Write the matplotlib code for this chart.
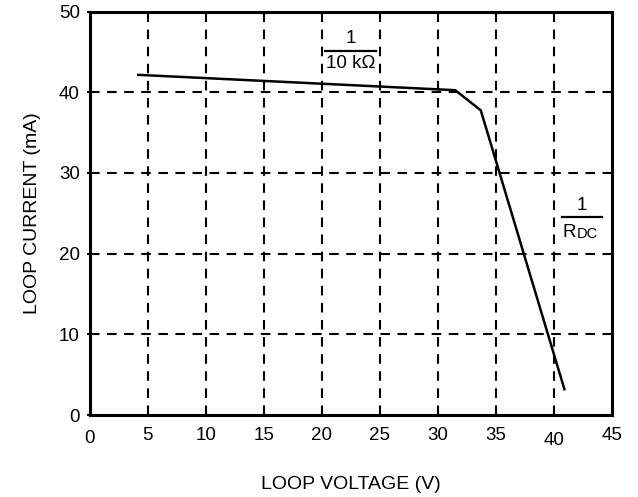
import matplotlib
matplotlib.use("Agg")
import matplotlib.pyplot as plt

plt.rcParams['font.family'] = ['Liberation Sans', 'DejaVu Sans']

# loop current vs loop voltage
voltage = [4.2, 31.5, 33.7, 40.9]
current = [42.15, 40.25, 37.75, 3.2]

xticks = [0, 5, 10, 15, 20, 25, 30, 35, 40, 45]
yticks = [0, 10, 20, 30, 40, 50]

fig = plt.figure(figsize=(6.38, 4.97), dpi=100)
ax = fig.add_axes([89.5 / 638, 82 / 497, 522.5 / 638, 403.5 / 497])

ax.set_xlim(0, 45)
ax.set_ylim(0, 50)
ax.set_xticks(xticks)
ax.set_yticks(yticks)

# dashed grid, skipping the lines that sit on the frame
for x in xticks[1:-1]:
    ax.axvline(x, color='black', lw=1.5, dashes=(4.6, 3.6), zorder=1)
for y in yticks[1:-1]:
    ax.axhline(y, color='black', lw=1.5, dashes=(4.6, 3.6), zorder=1)

ax.plot(voltage, current, color='black', lw=1.8, zorder=3)

for s in ax.spines.values():
    s.set_linewidth(2.2)

ax.tick_params(axis='x', direction='in', length=3, width=1.5, labelsize=13.5, pad=9)
ax.tick_params(axis='y', direction='out', length=2, width=1.5, labelsize=13.5, pad=5)

# the "40" label sits a bit lower in the original
xt = ax.xaxis.get_major_ticks()
xt[8].set_pad(12)
xt[0].set_pad(11)

ax.set_xlabel('LOOP VOLTAGE (V)', fontsize=14, labelpad=20)
ax.set_ylabel('LOOP CURRENT (mA)', fontsize=14, labelpad=13)

# slope annotations drawn as small fractions
ax.plot([20.3, 24.65], [45.05, 45.05], color='black', lw=1.6, zorder=4)
ax.annotate('1', xy=(22.47, 45.05), xytext=(0, 3), textcoords='offset points',
            ha='center', va='bottom', fontsize=13.5)
ax.annotate('10 k\u03a9', xy=(22.47, 45.05), xytext=(0, -2.5), textcoords='offset points',
            ha='center', va='top', fontsize=13.5)

ax.plot([40.7, 44.15], [24.5, 24.5], color='black', lw=1.6, zorder=4)
ax.annotate('1', xy=(42.42, 24.5), xytext=(0, 2.5), textcoords='offset points',
            ha='center', va='bottom', fontsize=13.5)
r = ax.annotate('R', xy=(40.7, 24.5), xytext=(0.5, -4.5), textcoords='offset points',
                ha='left', va='top', fontsize=13.5)
ax.annotate('DC', xy=(1, 0), xycoords=r, xytext=(0.3, 0), textcoords='offset points',
            ha='left', va='bottom', fontsize=10.5)

fig.savefig('out.png', dpi=100)
